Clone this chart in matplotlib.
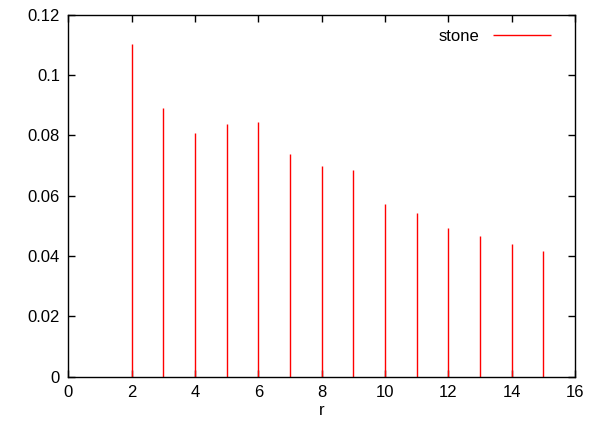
import matplotlib
matplotlib.use("Agg")
import matplotlib.pyplot as plt

plt.rcParams['font.family'] = ['Liberation Sans', 'DejaVu Sans']

r = [2, 3, 4, 5, 6, 7, 8, 9, 10, 11, 12, 13, 14, 15]
stone = [0.1103, 0.0890, 0.0807, 0.0838, 0.0843, 0.0738, 0.0698,
         0.0685, 0.0572, 0.0543, 0.0492, 0.0467, 0.0440, 0.0416]
xticks = [0, 2, 4, 6, 8, 10, 12, 14, 16]
yticks = [0, 0.02, 0.04, 0.06, 0.08, 0.1, 0.12]
ylabels = ['0', '0.02', '0.04', '0.06', '0.08', '0.1', '0.12']

fig = plt.figure(figsize=(6.12, 4.4), dpi=100)
ax = fig.add_axes([0.1118, 0.1441, 0.8277, 0.8223])

ax.vlines(r, 0, stone, colors='red', linewidth=1.0, label='stone')

ax.set_xlim(0, 16)
ax.set_ylim(0, 0.12)
ax.set_xticks(xticks)
ax.set_yticks(yticks)
ax.set_yticklabels(ylabels)
ax.tick_params(direction='in', top=True, right=True, length=5, width=1,
               labelsize=12, pad=6)
for s in ax.spines.values():
    s.set_linewidth(1)
ax.set_xlabel('r', fontsize=12, labelpad=2)

ax.legend(loc='upper right', frameon=False, markerfirst=False,
          handlelength=3.5, handletextpad=0.8, fontsize=12,
          borderpad=0, borderaxespad=0,
          bbox_to_anchor=(551 / 612, (440 - 29) / 440),
          bbox_transform=fig.transFigure)

fig.savefig('out.png', dpi=100)
